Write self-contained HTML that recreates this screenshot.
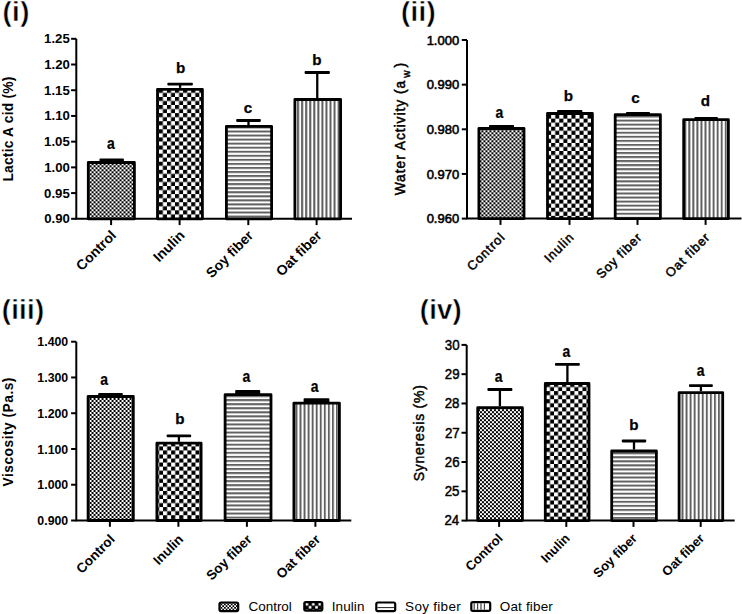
<!DOCTYPE html><html><head><meta charset="utf-8"><style>html,body{margin:0;padding:0;background:#fff;}svg{display:block}</style></head><body>
<svg width="742" height="614" viewBox="0 0 742 614">
<defs>
</defs>
<rect width="742" height="614" fill="#fff"/>
<text x="2.52" y="20.58" font-family="'Liberation Sans', sans-serif" font-weight="bold" font-size="27.5" textLength="26.85" lengthAdjust="spacing" stroke="#fff" stroke-width="0.45">(i)</text>
<path d="M76.3 38.8 V218.8 H352" fill="none" stroke="#000" stroke-width="2.0"/>
<path d="M71.1 218.80 H76.3" stroke="#000" stroke-width="2.0"/>
<text x="69.95" y="223.34" text-anchor="end" font-family="'Liberation Sans', sans-serif" font-weight="bold" font-size="13.2">0.90</text>
<path d="M71.1 193.09 H76.3" stroke="#000" stroke-width="2.0"/>
<text x="69.77" y="197.63" text-anchor="end" font-family="'Liberation Sans', sans-serif" font-weight="bold" font-size="13.2">0.95</text>
<path d="M71.1 167.37 H76.3" stroke="#000" stroke-width="2.0"/>
<text x="69.95" y="171.91" text-anchor="end" font-family="'Liberation Sans', sans-serif" font-weight="bold" font-size="13.2">1.00</text>
<path d="M71.1 141.66 H76.3" stroke="#000" stroke-width="2.0"/>
<text x="69.77" y="146.20" text-anchor="end" font-family="'Liberation Sans', sans-serif" font-weight="bold" font-size="13.2">1.05</text>
<path d="M71.1 115.94 H76.3" stroke="#000" stroke-width="2.0"/>
<text x="69.95" y="120.48" text-anchor="end" font-family="'Liberation Sans', sans-serif" font-weight="bold" font-size="13.2">1.10</text>
<path d="M71.1 90.23 H76.3" stroke="#000" stroke-width="2.0"/>
<text x="69.77" y="94.70" text-anchor="end" font-family="'Liberation Sans', sans-serif" font-weight="bold" font-size="13.2">1.15</text>
<path d="M71.1 64.51 H76.3" stroke="#000" stroke-width="2.0"/>
<text x="69.95" y="69.06" text-anchor="end" font-family="'Liberation Sans', sans-serif" font-weight="bold" font-size="13.2">1.20</text>
<path d="M71.1 38.80 H76.3" stroke="#000" stroke-width="2.0"/>
<text x="69.77" y="43.34" text-anchor="end" font-family="'Liberation Sans', sans-serif" font-weight="bold" font-size="13.2">1.25</text>
<path d="M111.70 161.1 V160.0" stroke="#000" stroke-width="2.3"/>
<rect x="99.5" y="158.60" width="24.40" height="3.50" rx="0.8" fill="#000"/>
<defs><pattern id="p10" patternUnits="userSpaceOnUse" x="89.56" y="165.29" width="4.0" height="4.0"><rect width="4.0" height="4.0" fill="#fff"/><rect width="2.0" height="2.0" fill="#000"/><rect x="2.0" y="2.0" width="2.0" height="2.0" fill="#000"/></pattern></defs>
<rect x="88.30" y="162.50" width="46.10" height="56.30" fill="url(#p10)" stroke="#000" stroke-width="2.8" stroke-linejoin="round"/>
<text transform="translate(110.8 148.5) scale(0.88 1)" text-anchor="middle" font-family="'Liberation Sans', sans-serif" font-weight="bold" font-size="15.8" stroke="#000" stroke-width="0.25">a</text>
<path d="M180.10 87.9 V84.15" stroke="#000" stroke-width="2.3"/>
<rect x="167.4" y="82.75" width="25.40" height="2.80" rx="0.8" fill="#000"/>
<defs><pattern id="p11" patternUnits="userSpaceOnUse" x="158.825" y="88.825" width="8.1" height="8.1"><rect width="8.1" height="8.1" fill="#fff"/><rect width="4.05" height="4.05" fill="#000"/><rect x="4.05" y="4.05" width="4.05" height="4.05" fill="#000"/></pattern></defs>
<rect x="157.50" y="89.30" width="44.90" height="129.50" fill="url(#p11)" stroke="#000" stroke-width="2.8" stroke-linejoin="round"/>
<text x="180.6" y="73.4" text-anchor="middle" font-family="'Liberation Sans', sans-serif" font-weight="bold" font-size="15.2" stroke="#000" stroke-width="0.25">b</text>
<path d="M248.50 125.0 V120.5" stroke="#000" stroke-width="2.3"/>
<rect x="236.2" y="119.10" width="24.60" height="2.80" rx="0.8" fill="#000"/>
<defs><pattern id="p12" patternUnits="userSpaceOnUse" x="0" y="130.5" width="8" height="4.05"><rect width="8" height="4.05" fill="#fff"/><rect width="8" height="2" fill="#626262"/></pattern></defs>
<rect x="226.40" y="126.40" width="45.20" height="92.40" fill="url(#p12)" stroke="#000" stroke-width="2.8" stroke-linejoin="round"/>
<text x="248.0" y="112.5" text-anchor="middle" font-family="'Liberation Sans', sans-serif" font-weight="bold" font-size="15.2" stroke="#000" stroke-width="0.25">c</text>
<path d="M317.25 98.1 V72.5" stroke="#000" stroke-width="2.3"/>
<rect x="304.6" y="71.10" width="25.30" height="2.80" rx="0.8" fill="#000"/>
<defs><pattern id="p13" patternUnits="userSpaceOnUse" x="297.1" y="0" width="4.05" height="8"><rect width="4.05" height="8" fill="#fff"/><rect width="2" height="8" fill="#606060"/></pattern></defs>
<rect x="294.90" y="99.50" width="45.70" height="119.30" fill="url(#p13)" stroke="#000" stroke-width="2.8" stroke-linejoin="round"/>
<text x="316.9" y="65.0" text-anchor="middle" font-family="'Liberation Sans', sans-serif" font-weight="bold" font-size="15.2" stroke="#000" stroke-width="0.25">b</text>
<path d="M111.1 218.8 V225.10000000000002" stroke="#000" stroke-width="2.0"/>
<text transform="translate(117.00 236.30) rotate(-45)" text-anchor="end" font-family="'Liberation Sans', sans-serif" font-weight="bold" font-size="14">Control</text>
<path d="M179.6 218.8 V225.10000000000002" stroke="#000" stroke-width="2.0"/>
<text transform="translate(185.50 236.30) rotate(-45)" text-anchor="end" font-family="'Liberation Sans', sans-serif" font-weight="bold" font-size="14">Inulin</text>
<path d="M248.3 218.8 V225.10000000000002" stroke="#000" stroke-width="2.0"/>
<text transform="translate(254.20 236.30) rotate(-45)" text-anchor="end" font-family="'Liberation Sans', sans-serif" font-weight="bold" font-size="14">Soy fiber</text>
<path d="M316.6 218.8 V225.10000000000002" stroke="#000" stroke-width="2.0"/>
<text transform="translate(322.50 236.30) rotate(-45)" text-anchor="end" font-family="'Liberation Sans', sans-serif" font-weight="bold" font-size="14">Oat fiber</text>
<text transform="translate(12.73 181.52) rotate(-90)" font-family="'Liberation Sans', sans-serif" font-weight="bold" font-size="13.8" textLength="104.81" lengthAdjust="spacing">Lactic A cid (%)</text>
<text x="401.02" y="20.58" font-family="'Liberation Sans', sans-serif" font-weight="bold" font-size="27.5" textLength="34.54" lengthAdjust="spacing" stroke="#fff" stroke-width="0.45">(ii)</text>
<path d="M467.0 40.0 V218.6 H741.5" fill="none" stroke="#000" stroke-width="2.0"/>
<path d="M461.8 218.60 H467.0" stroke="#000" stroke-width="2.0"/>
<text transform="translate(459.14 223.21) scale(0.97 1)" text-anchor="end" font-family="'Liberation Sans', sans-serif" font-weight="normal" font-size="13.4" stroke="#000" stroke-width="0.6">0.960</text>
<path d="M461.8 173.95 H467.0" stroke="#000" stroke-width="2.0"/>
<text transform="translate(459.14 178.56) scale(0.97 1)" text-anchor="end" font-family="'Liberation Sans', sans-serif" font-weight="normal" font-size="13.4" stroke="#000" stroke-width="0.6">0.970</text>
<path d="M461.8 129.30 H467.0" stroke="#000" stroke-width="2.0"/>
<text transform="translate(459.14 133.91) scale(0.97 1)" text-anchor="end" font-family="'Liberation Sans', sans-serif" font-weight="normal" font-size="13.4" stroke="#000" stroke-width="0.6">0.980</text>
<path d="M461.8 84.65 H467.0" stroke="#000" stroke-width="2.0"/>
<text transform="translate(459.14 89.26) scale(0.97 1)" text-anchor="end" font-family="'Liberation Sans', sans-serif" font-weight="normal" font-size="13.4" stroke="#000" stroke-width="0.6">0.990</text>
<path d="M461.8 40.00 H467.0" stroke="#000" stroke-width="2.0"/>
<text transform="translate(459.14 44.61) scale(0.97 1)" text-anchor="end" font-family="'Liberation Sans', sans-serif" font-weight="normal" font-size="13.4" stroke="#000" stroke-width="0.6">1.000</text>
<path d="M501.50 127.1 V126.5" stroke="#000" stroke-width="2.3"/>
<rect x="489.0" y="125.10" width="25.00" height="3.00" rx="0.8" fill="#000"/>
<defs><pattern id="p20" patternUnits="userSpaceOnUse" x="481.46" y="130.29" width="4.0" height="4.0"><rect width="4.0" height="4.0" fill="#fff"/><rect width="2.0" height="2.0" fill="#000"/><rect x="2.0" y="2.0" width="2.0" height="2.0" fill="#000"/></pattern></defs>
<rect x="478.90" y="128.50" width="45.10" height="90.10" fill="url(#p20)" stroke="#000" stroke-width="2.8" stroke-linejoin="round"/>
<text transform="translate(499.4 118.0) scale(0.88 1)" text-anchor="middle" font-family="'Liberation Sans', sans-serif" font-weight="bold" font-size="15.8" stroke="#000" stroke-width="0.25">a</text>
<path d="M569.75 112.1 V111.5" stroke="#000" stroke-width="2.3"/>
<rect x="557.1" y="110.10" width="25.30" height="3.00" rx="0.8" fill="#000"/>
<defs><pattern id="p21" patternUnits="userSpaceOnUse" x="551.175" y="110.525" width="8.1" height="8.1"><rect width="8.1" height="8.1" fill="#fff"/><rect width="4.05" height="4.05" fill="#000"/><rect x="4.05" y="4.05" width="4.05" height="4.05" fill="#000"/></pattern></defs>
<rect x="547.50" y="113.50" width="44.90" height="105.10" fill="url(#p21)" stroke="#000" stroke-width="2.8" stroke-linejoin="round"/>
<text x="568.5" y="101.2" text-anchor="middle" font-family="'Liberation Sans', sans-serif" font-weight="bold" font-size="15.2" stroke="#000" stroke-width="0.25">b</text>
<path d="M638.00 113.3 V113.5" stroke="#000" stroke-width="2.3"/>
<rect x="626.0" y="112.10" width="24.00" height="2.80" rx="0.8" fill="#000"/>
<defs><pattern id="p22" patternUnits="userSpaceOnUse" x="0" y="119.6" width="8" height="4.05"><rect width="8" height="4.05" fill="#fff"/><rect width="8" height="2" fill="#626262"/></pattern></defs>
<rect x="615.20" y="114.70" width="45.20" height="103.90" fill="url(#p22)" stroke="#000" stroke-width="2.8" stroke-linejoin="round"/>
<text x="635.6" y="103.0" text-anchor="middle" font-family="'Liberation Sans', sans-serif" font-weight="bold" font-size="15.2" stroke="#000" stroke-width="0.25">c</text>
<path d="M706.15 118.3 V118.5" stroke="#000" stroke-width="2.3"/>
<rect x="694.4" y="117.10" width="23.50" height="2.80" rx="0.8" fill="#000"/>
<defs><pattern id="p23" patternUnits="userSpaceOnUse" x="688.3" y="0" width="4.05" height="8"><rect width="4.05" height="8" fill="#fff"/><rect width="2" height="8" fill="#606060"/></pattern></defs>
<rect x="683.70" y="119.70" width="44.70" height="98.90" fill="url(#p23)" stroke="#000" stroke-width="2.8" stroke-linejoin="round"/>
<text x="705.5" y="105.5" text-anchor="middle" font-family="'Liberation Sans', sans-serif" font-weight="bold" font-size="15.2" stroke="#000" stroke-width="0.25">d</text>
<path d="M500.5 218.6 V224.9" stroke="#000" stroke-width="2.0"/>
<text transform="translate(505.90 237.90) rotate(-45)" text-anchor="end" font-family="'Liberation Sans', sans-serif" font-weight="normal" font-size="12.8" stroke="#000" stroke-width="0.5" letter-spacing="0.9">Control</text>
<path d="M569.5 218.6 V224.9" stroke="#000" stroke-width="2.0"/>
<text transform="translate(574.90 237.90) rotate(-45)" text-anchor="end" font-family="'Liberation Sans', sans-serif" font-weight="normal" font-size="12.8" stroke="#000" stroke-width="0.5" letter-spacing="0.9">Inulin</text>
<path d="M637.5 218.6 V224.9" stroke="#000" stroke-width="2.0"/>
<text transform="translate(642.90 237.90) rotate(-45)" text-anchor="end" font-family="'Liberation Sans', sans-serif" font-weight="normal" font-size="12.8" stroke="#000" stroke-width="0.5" letter-spacing="0.9">Soy fiber</text>
<path d="M705.6 218.6 V224.9" stroke="#000" stroke-width="2.0"/>
<text transform="translate(711.00 237.90) rotate(-45)" text-anchor="end" font-family="'Liberation Sans', sans-serif" font-weight="normal" font-size="12.8" stroke="#000" stroke-width="0.5" letter-spacing="0.9">Oat fiber</text>
<text x="1.73" y="318.58" font-family="'Liberation Sans', sans-serif" font-weight="bold" font-size="27.5" textLength="42.34" lengthAdjust="spacing" stroke="#fff" stroke-width="0.45">(iii)</text>
<path d="M76.3 341.7 V520.5 H351.3" fill="none" stroke="#000" stroke-width="2.0"/>
<path d="M71.1 520.50 H76.3" stroke="#000" stroke-width="2.0"/>
<text transform="translate(68.21 525.04) scale(0.935 1)" text-anchor="end" font-family="'Liberation Sans', sans-serif" font-weight="bold" font-size="13.2">0.900</text>
<path d="M71.1 484.74 H76.3" stroke="#000" stroke-width="2.0"/>
<text transform="translate(68.21 489.28) scale(0.935 1)" text-anchor="end" font-family="'Liberation Sans', sans-serif" font-weight="bold" font-size="13.2">1.000</text>
<path d="M71.1 448.98 H76.3" stroke="#000" stroke-width="2.0"/>
<text transform="translate(68.21 453.52) scale(0.935 1)" text-anchor="end" font-family="'Liberation Sans', sans-serif" font-weight="bold" font-size="13.2">1.100</text>
<path d="M71.1 413.22 H76.3" stroke="#000" stroke-width="2.0"/>
<text transform="translate(68.21 417.76) scale(0.935 1)" text-anchor="end" font-family="'Liberation Sans', sans-serif" font-weight="bold" font-size="13.2">1.200</text>
<path d="M71.1 377.46 H76.3" stroke="#000" stroke-width="2.0"/>
<text transform="translate(68.21 381.99) scale(0.935 1)" text-anchor="end" font-family="'Liberation Sans', sans-serif" font-weight="bold" font-size="13.2">1.300</text>
<path d="M71.1 341.70 H76.3" stroke="#000" stroke-width="2.0"/>
<text transform="translate(68.21 346.24) scale(0.935 1)" text-anchor="end" font-family="'Liberation Sans', sans-serif" font-weight="bold" font-size="13.2">1.400</text>
<path d="M110.50 395.1 V394.5" stroke="#000" stroke-width="2.3"/>
<rect x="98.2" y="393.10" width="24.60" height="3.00" rx="0.8" fill="#000"/>
<defs><pattern id="p30" patternUnits="userSpaceOnUse" x="89.56" y="397.99" width="4.0" height="4.0"><rect width="4.0" height="4.0" fill="#fff"/><rect width="2.0" height="2.0" fill="#000"/><rect x="2.0" y="2.0" width="2.0" height="2.0" fill="#000"/></pattern></defs>
<rect x="88.10" y="396.50" width="45.20" height="124.00" fill="url(#p30)" stroke="#000" stroke-width="2.8" stroke-linejoin="round"/>
<text transform="translate(104.2 384.7) scale(0.88 1)" text-anchor="middle" font-family="'Liberation Sans', sans-serif" font-weight="bold" font-size="15.8" stroke="#000" stroke-width="0.25">a</text>
<path d="M178.90 441.8 V435.8" stroke="#000" stroke-width="2.3"/>
<rect x="166.7" y="434.40" width="24.40" height="2.80" rx="0.8" fill="#000"/>
<defs><pattern id="p31" patternUnits="userSpaceOnUse" x="163.075" y="442.325" width="8.1" height="8.1"><rect width="8.1" height="8.1" fill="#fff"/><rect width="4.05" height="4.05" fill="#000"/><rect x="4.05" y="4.05" width="4.05" height="4.05" fill="#000"/></pattern></defs>
<rect x="156.90" y="443.20" width="44.20" height="77.30" fill="url(#p31)" stroke="#000" stroke-width="2.8" stroke-linejoin="round"/>
<text x="179.8" y="424.4" text-anchor="middle" font-family="'Liberation Sans', sans-serif" font-weight="bold" font-size="15.2" stroke="#000" stroke-width="0.25">b</text>
<path d="M247.70 393.2 V391.5" stroke="#000" stroke-width="2.3"/>
<rect x="235.2" y="390.10" width="25.00" height="4.10" rx="0.8" fill="#000"/>
<defs><pattern id="p32" patternUnits="userSpaceOnUse" x="0" y="451.8" width="8" height="4.05"><rect width="8" height="4.05" fill="#fff"/><rect width="8" height="2" fill="#626262"/></pattern></defs>
<rect x="225.10" y="394.60" width="45.90" height="125.90" fill="url(#p32)" stroke="#000" stroke-width="2.8" stroke-linejoin="round"/>
<text transform="translate(246.3 382.2) scale(0.88 1)" text-anchor="middle" font-family="'Liberation Sans', sans-serif" font-weight="bold" font-size="15.8" stroke="#000" stroke-width="0.25">a</text>
<path d="M316.50 401.7 V399.6" stroke="#000" stroke-width="2.3"/>
<rect x="303.6" y="398.20" width="25.80" height="4.50" rx="0.8" fill="#000"/>
<defs><pattern id="p33" patternUnits="userSpaceOnUse" x="299.5" y="0" width="4.05" height="8"><rect width="4.05" height="8" fill="#fff"/><rect width="2" height="8" fill="#606060"/></pattern></defs>
<rect x="293.90" y="403.10" width="45.50" height="117.40" fill="url(#p33)" stroke="#000" stroke-width="2.8" stroke-linejoin="round"/>
<text transform="translate(314.5 391.9) scale(0.88 1)" text-anchor="middle" font-family="'Liberation Sans', sans-serif" font-weight="bold" font-size="15.8" stroke="#000" stroke-width="0.25">a</text>
<path d="M109.9 520.5 V526.8" stroke="#000" stroke-width="2.0"/>
<text transform="translate(115.60 540.20) rotate(-45)" text-anchor="end" font-family="'Liberation Sans', sans-serif" font-weight="bold" font-size="13.5">Control</text>
<path d="M178.4 520.5 V526.8" stroke="#000" stroke-width="2.0"/>
<text transform="translate(184.10 540.20) rotate(-45)" text-anchor="end" font-family="'Liberation Sans', sans-serif" font-weight="bold" font-size="13.5">Inulin</text>
<path d="M246.9 520.5 V526.8" stroke="#000" stroke-width="2.0"/>
<text transform="translate(252.60 540.20) rotate(-45)" text-anchor="end" font-family="'Liberation Sans', sans-serif" font-weight="bold" font-size="13.5">Soy fiber</text>
<path d="M315.4 520.5 V526.8" stroke="#000" stroke-width="2.0"/>
<text transform="translate(321.10 540.20) rotate(-45)" text-anchor="end" font-family="'Liberation Sans', sans-serif" font-weight="bold" font-size="13.5">Oat fiber</text>
<text transform="translate(12.83 486.40) rotate(-90)" font-family="'Liberation Sans', sans-serif" font-weight="bold" font-size="13.8" textLength="108.89" lengthAdjust="spacing">Viscosity (Pa.s)</text>
<text x="419.82" y="318.58" font-family="'Liberation Sans', sans-serif" font-weight="bold" font-size="27.5" textLength="41.85" lengthAdjust="spacing" stroke="#fff" stroke-width="0.45">(iv)</text>
<path d="M466.7 344.9 V520.6 H734.7" fill="none" stroke="#000" stroke-width="2.0"/>
<path d="M461.5 520.60 H466.7" stroke="#000" stroke-width="2.0"/>
<text transform="translate(459.17 525.49) scale(0.95 1)" text-anchor="end" font-family="'Liberation Sans', sans-serif" font-weight="normal" font-size="14.0" stroke="#000" stroke-width="0.45">24</text>
<path d="M461.5 491.32 H466.7" stroke="#000" stroke-width="2.0"/>
<text transform="translate(459.48 496.13) scale(0.95 1)" text-anchor="end" font-family="'Liberation Sans', sans-serif" font-weight="normal" font-size="14.0" stroke="#000" stroke-width="0.45">25</text>
<path d="M461.5 462.03 H466.7" stroke="#000" stroke-width="2.0"/>
<text transform="translate(459.58 466.85) scale(0.95 1)" text-anchor="end" font-family="'Liberation Sans', sans-serif" font-weight="normal" font-size="14.0" stroke="#000" stroke-width="0.45">26</text>
<path d="M461.5 432.75 H466.7" stroke="#000" stroke-width="2.0"/>
<text transform="translate(459.69 437.64) scale(0.95 1)" text-anchor="end" font-family="'Liberation Sans', sans-serif" font-weight="normal" font-size="14.0" stroke="#000" stroke-width="0.45">27</text>
<path d="M461.5 403.47 H466.7" stroke="#000" stroke-width="2.0"/>
<text transform="translate(459.52 408.28) scale(0.95 1)" text-anchor="end" font-family="'Liberation Sans', sans-serif" font-weight="normal" font-size="14.0" stroke="#000" stroke-width="0.45">28</text>
<path d="M461.5 374.18 H466.7" stroke="#000" stroke-width="2.0"/>
<text transform="translate(459.60 379.00) scale(0.95 1)" text-anchor="end" font-family="'Liberation Sans', sans-serif" font-weight="normal" font-size="14.0" stroke="#000" stroke-width="0.45">29</text>
<path d="M461.5 344.90 H466.7" stroke="#000" stroke-width="2.0"/>
<text transform="translate(459.65 349.71) scale(0.95 1)" text-anchor="end" font-family="'Liberation Sans', sans-serif" font-weight="normal" font-size="14.0" stroke="#000" stroke-width="0.45">30</text>
<path d="M499.90 406.3 V389.5" stroke="#000" stroke-width="2.3"/>
<rect x="487.4" y="388.10" width="25.00" height="2.80" rx="0.8" fill="#000"/>
<defs><pattern id="p40" patternUnits="userSpaceOnUse" x="477.96" y="409.19" width="4.0" height="4.0"><rect width="4.0" height="4.0" fill="#fff"/><rect width="2.0" height="2.0" fill="#000"/><rect x="2.0" y="2.0" width="2.0" height="2.0" fill="#000"/></pattern></defs>
<rect x="477.70" y="407.70" width="44.70" height="112.90" fill="url(#p40)" stroke="#000" stroke-width="2.8" stroke-linejoin="round"/>
<text transform="translate(498.7 381.8) scale(0.88 1)" text-anchor="middle" font-family="'Liberation Sans', sans-serif" font-weight="bold" font-size="15.8" stroke="#000" stroke-width="0.25">a</text>
<path d="M567.40 382.1 V364.4" stroke="#000" stroke-width="2.3"/>
<rect x="555.0" y="363.00" width="24.80" height="2.80" rx="0.8" fill="#000"/>
<defs><pattern id="p41" patternUnits="userSpaceOnUse" x="545.975" y="383.025" width="8.1" height="8.1"><rect width="8.1" height="8.1" fill="#fff"/><rect width="4.05" height="4.05" fill="#000"/><rect x="4.05" y="4.05" width="4.05" height="4.05" fill="#000"/></pattern></defs>
<rect x="545.30" y="383.50" width="43.70" height="137.10" fill="url(#p41)" stroke="#000" stroke-width="2.8" stroke-linejoin="round"/>
<text transform="translate(566.4 356.9) scale(0.88 1)" text-anchor="middle" font-family="'Liberation Sans', sans-serif" font-weight="bold" font-size="15.8" stroke="#000" stroke-width="0.25">a</text>
<path d="M634.00 449.6 V441.0" stroke="#000" stroke-width="2.3"/>
<rect x="621.8" y="439.60" width="24.40" height="2.80" rx="0.8" fill="#000"/>
<defs><pattern id="p42" patternUnits="userSpaceOnUse" x="0" y="452.2" width="8" height="4.05"><rect width="8" height="4.05" fill="#fff"/><rect width="8" height="2" fill="#626262"/></pattern></defs>
<rect x="611.70" y="451.00" width="44.70" height="69.60" fill="url(#p42)" stroke="#000" stroke-width="2.8" stroke-linejoin="round"/>
<text x="633.8" y="430.2" text-anchor="middle" font-family="'Liberation Sans', sans-serif" font-weight="bold" font-size="15.2" stroke="#000" stroke-width="0.25">b</text>
<path d="M700.90 391.3 V385.6" stroke="#000" stroke-width="2.3"/>
<rect x="689.0" y="384.20" width="23.80" height="2.80" rx="0.8" fill="#000"/>
<defs><pattern id="p43" patternUnits="userSpaceOnUse" x="681.5" y="0" width="4.05" height="8"><rect width="4.05" height="8" fill="#fff"/><rect width="2" height="8" fill="#606060"/></pattern></defs>
<rect x="679.10" y="392.70" width="43.60" height="127.90" fill="url(#p43)" stroke="#000" stroke-width="2.8" stroke-linejoin="round"/>
<text transform="translate(700.6 376.0) scale(0.88 1)" text-anchor="middle" font-family="'Liberation Sans', sans-serif" font-weight="bold" font-size="15.8" stroke="#000" stroke-width="0.25">a</text>
<path d="M499.1 520.6 V526.9" stroke="#000" stroke-width="2.0"/>
<text transform="translate(503.50 539.10) rotate(-45)" text-anchor="end" font-family="'Liberation Sans', sans-serif" font-weight="bold" font-size="13">Control</text>
<path d="M566.3 520.6 V526.9" stroke="#000" stroke-width="2.0"/>
<text transform="translate(570.70 539.10) rotate(-45)" text-anchor="end" font-family="'Liberation Sans', sans-serif" font-weight="bold" font-size="13">Inulin</text>
<path d="M633.5 520.6 V526.9" stroke="#000" stroke-width="2.0"/>
<text transform="translate(637.90 539.10) rotate(-45)" text-anchor="end" font-family="'Liberation Sans', sans-serif" font-weight="bold" font-size="13">Soy fiber</text>
<path d="M700.7 520.6 V526.9" stroke="#000" stroke-width="2.0"/>
<text transform="translate(705.10 539.10) rotate(-45)" text-anchor="end" font-family="'Liberation Sans', sans-serif" font-weight="bold" font-size="13">Oat fiber</text>
<text transform="translate(424.49 481.34) rotate(-90)" font-family="'Liberation Sans', sans-serif" font-weight="normal" font-size="14.0" textLength="96.21" lengthAdjust="spacing" stroke="#000" stroke-width="0.45">Syneresis (%)</text>
<text transform="translate(404.60 195.37) rotate(-90)" font-family="'Liberation Sans', sans-serif" font-weight="normal" font-size="13.8" stroke="#000" stroke-width="0.55" textLength="114.58" lengthAdjust="spacing">Water Activity (a</text>
<text transform="translate(410.2 77.7) rotate(-90)" font-family="'Liberation Sans', sans-serif" font-weight="normal" font-size="10" stroke="#000" stroke-width="0.4">w</text>
<text transform="translate(404.60 67.6) rotate(-90)" font-family="'Liberation Sans', sans-serif" font-weight="normal" font-size="13.8" stroke="#000" stroke-width="0.55">)</text>
<pattern id="pcl" patternUnits="userSpaceOnUse" x="220.6" y="603.6" width="3.4" height="3.4"><rect width="3.4" height="3.4" fill="#fff"/><rect width="1.7" height="1.7" fill="#000"/><rect x="1.7" y="1.7" width="1.7" height="1.7" fill="#000"/></pattern>
<pattern id="pil" patternUnits="userSpaceOnUse" x="305.0" y="602.6" width="6.4" height="6.4"><rect width="6.4" height="6.4" fill="#000"/><rect x="0.6" y="0.4" width="2.6" height="2.6" fill="#fff"/><rect x="3.8" y="3.4" width="2.6" height="2.6" fill="#fff"/></pattern>
<rect x="219.50" y="602.50" width="18.70" height="8.70" rx="1.6" fill="url(#pcl)" stroke="#000" stroke-width="2.2"/>
<rect x="304.30" y="602.00" width="18.00" height="8.70" rx="1.6" fill="url(#pil)" stroke="#000" stroke-width="2.2"/>
<rect x="376.30" y="602.50" width="18.90" height="8.70" rx="1.6" fill="#fff" stroke="#000" stroke-width="2.2"/>
<rect x="377.4" y="607.0" width="16.7" height="1.1" fill="#333"/>
<rect x="471.30" y="602.10" width="18.90" height="8.70" rx="1.6" fill="#fff" stroke="#000" stroke-width="2.2"/>
<rect x="473.60" y="603.2" width="1.2" height="6.5" fill="#444"/>
<rect x="477.00" y="603.2" width="1.2" height="6.5" fill="#444"/>
<rect x="480.40" y="603.2" width="1.2" height="6.5" fill="#444"/>
<rect x="483.80" y="603.2" width="1.2" height="6.5" fill="#444"/>
<text x="248.51" y="611.07" font-family="'Liberation Sans', sans-serif" font-weight="normal" font-size="13.5" textLength="43.30" lengthAdjust="spacing">Control</text>
<text x="331.66" y="611.07" font-family="'Liberation Sans', sans-serif" font-weight="normal" font-size="13.5" textLength="32.83" lengthAdjust="spacing">Inulin</text>
<text x="405.08" y="610.99" font-family="'Liberation Sans', sans-serif" font-weight="normal" font-size="13.5" textLength="55.65" lengthAdjust="spacing">Soy fiber</text>
<text x="499.77" y="611.07" font-family="'Liberation Sans', sans-serif" font-weight="normal" font-size="13.5" textLength="53.06" lengthAdjust="spacing">Oat fiber</text>
</svg></body></html>
